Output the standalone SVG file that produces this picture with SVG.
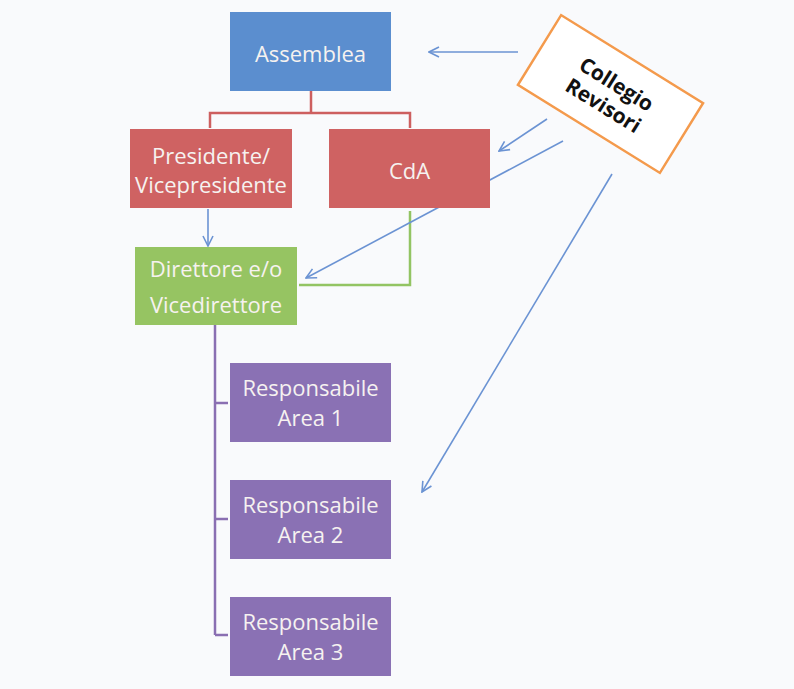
<svg xmlns="http://www.w3.org/2000/svg" width="794" height="689" viewBox="0 0 794 689">
  <style>
    .box-text { font-family: "Open Sans", "Liberation Sans", sans-serif; font-size: 22px; fill: #F6F2F0; text-anchor: middle; }
    .note-text { font-family: "Open Sans", "Liberation Sans", sans-serif; font-size: 21px; font-weight: bold; fill: #111111; text-anchor: middle; }
    .arrow { fill: none; stroke: #6B93D3; stroke-width: 1.6; marker-end: url(#open-arrow); }
    .red-link { fill: none; stroke: #CD5F5F; stroke-width: 2.5; }
    .green-link { fill: none; stroke: #93C463; stroke-width: 2.5; }
    .purple-link { fill: none; stroke: #8A6FB2; stroke-width: 2.5; }
  </style>
  <defs>
    <marker id="open-arrow" viewBox="0 0 12 12" refX="11" refY="6" markerWidth="12" markerHeight="12" markerUnits="userSpaceOnUse" orient="auto">
      <path d="M1,1 L11,6 L1,11" fill="none" stroke="#6B93D3" stroke-width="1.6"/>
    </marker>
  </defs>

  <rect x="0" y="0" width="794" height="689" fill="#F9FAFC"/>

  <!-- connectors -->
  <g id="connectors">
    <path class="red-link" d="M311,91 V113 M210,128 V113 H410 V128"/>
    <path class="green-link" d="M410,211 V285 H299"/>
    <path class="purple-link" d="M215,325 V635 M215,403 H228 M215,519 H228 M215,635 H228"/>
    <line class="arrow" x1="208" y1="209" x2="208" y2="246"/>
    <line class="arrow" x1="518" y1="52" x2="429" y2="52"/>
    <line class="arrow" x1="547" y1="119" x2="499" y2="151"/>
    <line class="arrow" x1="563" y1="141" x2="306" y2="278"/>
    <line class="arrow" x1="612" y1="174" x2="422" y2="492"/>
  </g>

  <g id="assemblea">
    <rect x="230" y="12" width="161" height="79" fill="#5B8ECF"/>
    <text class="box-text" x="310.5" y="62">Assemblea</text>
  </g>

  <g id="presidente">
    <rect x="130" y="129" width="162" height="79" fill="#CF6262"/>
    <text class="box-text" x="211" y="164">Presidente/</text>
    <text class="box-text" x="211" y="193">Vicepresidente</text>
  </g>

  <g id="cda">
    <rect x="329" y="129" width="161" height="79" fill="#CF6262"/>
    <text class="box-text" x="409.5" y="179">CdA</text>
  </g>

  <g id="direttore">
    <rect x="135" y="247" width="162" height="78" fill="#96C462"/>
    <text class="box-text" x="216" y="277">Direttore e/o</text>
    <text class="box-text" x="216" y="313">Vicedirettore</text>
  </g>

  <g id="area1">
    <rect x="230" y="363" width="161" height="79" fill="#8A71B4"/>
    <text class="box-text" x="310.5" y="396">Responsabile</text>
    <text class="box-text" x="310.5" y="426">Area 1</text>
  </g>

  <g id="area2">
    <rect x="230" y="480" width="161" height="79" fill="#8A71B4"/>
    <text class="box-text" x="310.5" y="513">Responsabile</text>
    <text class="box-text" x="310.5" y="543">Area 2</text>
  </g>

  <g id="area3">
    <rect x="230" y="597" width="161" height="79" fill="#8A71B4"/>
    <text class="box-text" x="310.5" y="630">Responsabile</text>
    <text class="box-text" x="310.5" y="660">Area 3</text>
  </g>

  <g id="collegio-revisori" transform="translate(610.5,94) rotate(31.8)">
    <rect x="-83.5" y="-41" width="167" height="82" fill="#FFFFFF" stroke="#F49A4C" stroke-width="2.5"/>
    <text class="note-text" x="0" y="-4">Collegio</text>
    <text class="note-text" x="0" y="21">Revisori</text>
  </g>
</svg>
